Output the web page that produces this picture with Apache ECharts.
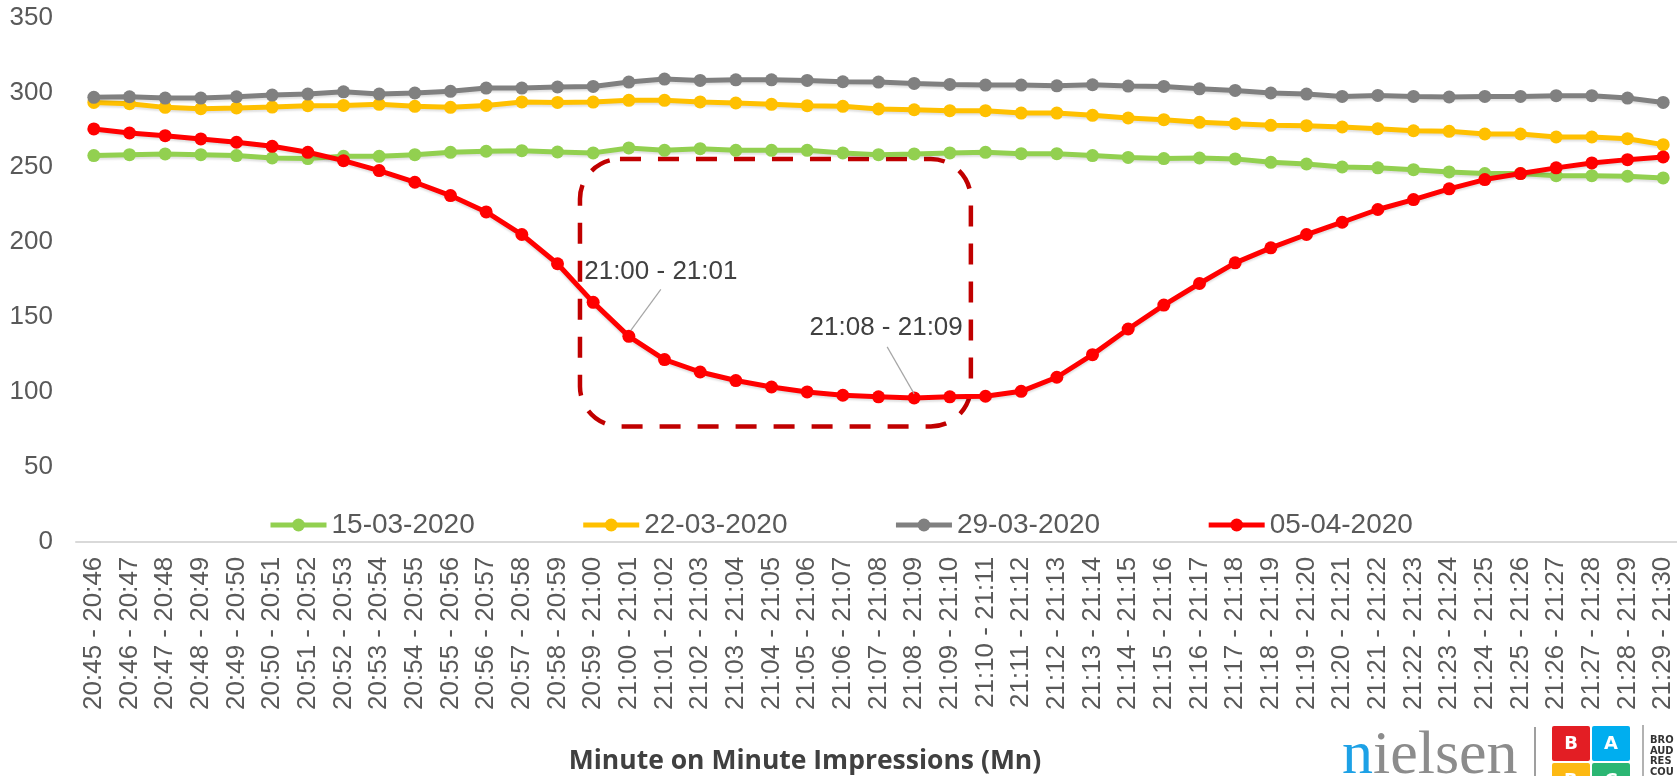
<!DOCTYPE html>
<html>
<head>
<meta charset="utf-8">
<title>Minute on Minute Impressions (Mn)</title>
<script src="https://cdn.jsdelivr.net/npm/echarts@6/dist/echarts.min.js"></script>
<style>
  html, body { margin: 0; padding: 0; background: #ffffff; }
  #chart { width: 1677px; height: 776px; }
</style>
</head>
<body>
<div id="chart"></div>
<script>
// Minute slots between 20:45 and 21:30
const categories = [
  '20:45 - 20:46', '20:46 - 20:47', '20:47 - 20:48', '20:48 - 20:49', '20:49 - 20:50',
  '20:50 - 20:51', '20:51 - 20:52', '20:52 - 20:53', '20:53 - 20:54', '20:54 - 20:55',
  '20:55 - 20:56', '20:56 - 20:57', '20:57 - 20:58', '20:58 - 20:59', '20:59 - 21:00',
  '21:00 - 21:01', '21:01 - 21:02', '21:02 - 21:03', '21:03 - 21:04', '21:04 - 21:05',
  '21:05 - 21:06', '21:06 - 21:07', '21:07 - 21:08', '21:08 - 21:09', '21:09 - 21:10',
  '21:10 - 21:11', '21:11 - 21:12', '21:12 - 21:13', '21:13 - 21:14', '21:14 - 21:15',
  '21:15 - 21:16', '21:16 - 21:17', '21:17 - 21:18', '21:18 - 21:19', '21:19 - 21:20',
  '21:20 - 21:21', '21:21 - 21:22', '21:22 - 21:23', '21:23 - 21:24', '21:24 - 21:25',
  '21:25 - 21:26', '21:26 - 21:27', '21:27 - 21:28', '21:28 - 21:29', '21:29 - 21:30'
];

// Impressions in millions, one value per minute slot
const mar15 = [
  257.8, 258.4, 258.9, 258.4, 257.8, 256.2, 255.8, 257.3, 257.3, 258.4,
  260.0, 260.7, 261.1, 260.2, 259.6, 262.9, 261.3, 262.4, 261.3, 261.3,
  261.3, 259.6, 258.4, 258.9, 259.6, 260.0, 259.1, 259.1, 257.8, 256.6,
  255.8, 256.2, 255.6, 253.3, 252.2, 250.2, 249.6, 248.4, 246.9, 245.8,
  245.8, 244.4, 244.4, 244.0, 242.9
];
const mar22 = [
  293.3, 292.4, 290.0, 289.1, 289.6, 290.2, 291.1, 291.3, 292.0, 290.7,
  290.0, 291.3, 293.6, 293.3, 293.5, 294.7, 294.7, 293.6, 292.9, 292.0,
  291.1, 290.7, 288.9, 288.4, 287.8, 287.8, 286.2, 286.2, 284.7, 282.9,
  281.8, 280.0, 279.1, 278.0, 277.8, 276.9, 275.8, 274.4, 274.0, 272.2,
  272.2, 270.2, 270.2, 269.1, 265.1
];
const mar29 = [
  296.7, 297.1, 296.2, 296.2, 297.1, 298.2, 298.9, 300.4, 298.9, 299.6,
  300.7, 302.9, 302.9, 303.6, 304.0, 306.9, 308.9, 308.0, 308.4, 308.4,
  308.0, 307.1, 306.9, 306.0, 305.3, 304.9, 304.9, 304.4, 305.1, 304.2,
  304.0, 302.4, 301.3, 299.6, 298.9, 297.3, 298.0, 297.3, 296.9, 297.3,
  297.3, 297.8, 297.8, 296.2, 293.3
];
const apr05 = [
  275.6, 272.9, 271.1, 268.9, 266.7, 264.0, 260.0, 254.4, 247.8, 240.0,
  231.1, 220.2, 205.1, 185.6, 159.8, 137.1, 121.6, 113.3, 107.6, 103.3,
  100.0, 97.8, 96.7, 96.0, 96.7, 97.1, 100.4, 109.8, 124.9, 142.0,
  158.0, 172.4, 186.2, 196.2, 205.1, 213.3, 221.8, 228.4, 235.6, 241.8,
  245.8, 249.6, 252.9, 255.1, 256.9
];

const seriesNames = ['15-03-2020', '22-03-2020', '29-03-2020', '05-04-2020'];
const seriesValues = [mar15, mar22, mar29, apr05];
const seriesColors = ['#92D050', '#FFC000', '#808080', '#FF0000'];

// y-axis ticks
const yTicks = [0, 50, 100, 150, 200, 250, 300, 350];

// Called-out slots on the 05-04-2020 line
const calloutSlots = ['21:00 - 21:01', '21:08 - 21:09'];

// Highlighted window (category index range and value range)
const windowFromIndex = 13.63;
const windowToIndex = 24.59;
const windowUpper = 255.5;
const windowLower = 77;

const chart = echarts.init(document.getElementById('chart'), null, { renderer: 'canvas' });

const textColor = '#595959';
const baseFont = '"Liberation Sans", Arial, sans-serif';

chart.setOption({
  animation: false,
  backgroundColor: '#ffffff',
  textStyle: { fontFamily: baseFont },
  grid: {
    left: 76,
    top: 17.5,
    width: 1605,
    bottom: 234.3,
    containLabel: false,
    outerBoundsMode: 'none'
  },
  legend: {
    data: seriesNames,
    left: 268,
    top: 511,
    padding: 0,
    itemWidth: 56,
    itemHeight: 16,
    itemGap: 106,
    lineStyle: { width: 5 },
    textStyle: { fontSize: 28, color: textColor, fontFamily: baseFont }
  },
  xAxis: {
    type: 'category',
    data: categories,
    boundaryGap: true,
    axisLine: { show: true, lineStyle: { color: '#D9D9D9', width: 2 } },
    axisTick: { show: false },
    splitLine: { show: false },
    axisLabel: {
      interval: 0,
      rotate: 90,
      margin: 15,
      fontSize: 26,
      color: textColor,
      fontFamily: baseFont
    }
  },
  yAxis: {
    type: 'value',
    min: yTicks[0],
    max: yTicks[yTicks.length - 1],
    interval: yTicks[1] - yTicks[0],
    axisLine: { show: false },
    axisTick: { show: false },
    splitLine: { show: false },
    axisLabel: {
      margin: 23,
      fontSize: 26,
      color: textColor,
      fontFamily: baseFont
    }
  },
  series: seriesNames.map((name, i) => ({
    name: name,
    type: 'line',
    data: seriesValues[i],
    symbol: 'circle',
    symbolSize: 13,
    showAllSymbol: true,
    z: 2 + i,
    itemStyle: { color: seriesColors[i] },
    lineStyle: {
      color: seriesColors[i],
      width: 5,
      shadowColor: 'rgba(0,0,0,0.12)',
      shadowBlur: 2,
      shadowOffsetY: 2
    },
    emphasis: { disabled: true }
  }))
});

// Overlay: highlighted window, callout labels, axis caption and logos
function drawOverlay() {
  const xAt = idx => chart.convertToPixel({ xAxisIndex: 0 }, idx);
  const yAt = v => chart.convertToPixel({ yAxisIndex: 0 }, v);
  const x0 = xAt(0);
  const step = xAt(1) - x0;
  const fx = idx => x0 + idx * step;

  const boxLeft = fx(windowFromIndex);
  const boxRight = fx(windowToIndex);
  const boxTop = yAt(windowUpper);
  const boxBottom = yAt(windowLower);

  const elements = [
    {
      type: 'rect',
      z: 1,
      silent: true,
      shape: { x: boxLeft, y: boxTop, width: boxRight - boxLeft, height: boxBottom - boxTop, r: 40 },
      style: { fill: 'none', stroke: '#C00000', lineWidth: 4.5, lineDash: [21, 17] }
    }
  ];

  // callout offsets: [text dx, text dy, line start dx, line start dy, line end dx, line end dy]
  const calloutOffsets = [
    [32, -65, 32, -47, 2, -6],
    [-28, -70, -27, -51, 0, -4]
  ];
  calloutSlots.forEach((slot, k) => {
    const idx = categories.indexOf(slot);
    const px = xAt(idx);
    const py = yAt(apr05[idx]);
    const o = calloutOffsets[k];
    elements.push({
      type: 'line',
      z: 10,
      silent: true,
      shape: { x1: px + o[2], y1: py + o[3], x2: px + o[4], y2: py + o[5] },
      style: { stroke: '#A6A6A6', lineWidth: 1.2 }
    });
    elements.push({
      type: 'text',
      z: 10,
      silent: true,
      x: px + o[0],
      y: py + o[1],
      style: {
        text: slot,
        fontSize: 26,
        fontFamily: baseFont,
        fill: '#404040',
        align: 'center',
        verticalAlign: 'middle'
      }
    });
  });

  // axis caption
  elements.push({
    type: 'text',
    silent: true,
    x: 805,
    y: 761,
    style: {
      text: 'Minute on Minute Impressions (Mn)',
      fontSize: 26.5,
      fontWeight: 'bold',
      fontFamily: '"Open Sans", Lato, sans-serif',
      fill: '#404040',
      align: 'center',
      verticalAlign: 'middle'
    }
  });

  // nielsen wordmark
  elements.push({
    type: 'text',
    silent: true,
    x: 1342,
    y: 757,
    style: {
      text: '{b|n}{g|ielsen}',
      align: 'left',
      verticalAlign: 'middle',
      rich: {
        b: { fontSize: 62, fontFamily: '"Liberation Serif", "DejaVu Serif", serif', fill: '#1DA1E6' },
        g: { fontSize: 62, fontFamily: '"Liberation Serif", "DejaVu Serif", serif', fill: '#8C8C8C' }
      }
    }
  });
  elements.push({
    type: 'line', silent: true,
    shape: { x1: 1535, y1: 727, x2: 1535, y2: 776 },
    style: { stroke: '#7F7F7F', lineWidth: 1.5 }
  });
  elements.push({
    type: 'line', silent: true,
    shape: { x1: 1643, y1: 725, x2: 1643, y2: 776 },
    style: { stroke: '#7F7F7F', lineWidth: 1.2 }
  });

  // BARC tiles
  const tiles = [
    { x: 1552, y: 726, c: '#E31E24', t: 'B' },
    { x: 1592, y: 726, c: '#00AEEF', t: 'A' },
    { x: 1552, y: 763, c: '#FDB913', t: 'R' },
    { x: 1592, y: 763, c: '#2BB673', t: 'C' }
  ];
  tiles.forEach(tl => {
    elements.push({
      type: 'rect', silent: true,
      shape: { x: tl.x, y: tl.y, width: 38, height: 35, r: 2 },
      style: { fill: tl.c }
    });
    elements.push({
      type: 'text', silent: true,
      x: tl.x + 19, y: tl.y + 18,
      style: {
        text: tl.t, fontSize: 18, fontWeight: 'bold',
        fontFamily: '"DejaVu Sans", sans-serif', fill: '#ffffff',
        align: 'center', verticalAlign: 'middle'
      }
    });
  });
  ['BRO', 'AUD', 'RES', 'COU'].forEach((w, i) => {
    elements.push({
      type: 'text', silent: true,
      x: 1650, y: 740 + i * 10.7,
      style: {
        text: w, fontSize: 11, fontWeight: 'bold',
        fontFamily: '"DejaVu Sans Condensed", "DejaVu Sans", sans-serif', fill: '#333333',
        align: 'left', verticalAlign: 'middle'
      }
    });
  });

  chart.setOption({ graphic: { elements: elements } });
}

drawOverlay();
</script>
</body>
</html>
